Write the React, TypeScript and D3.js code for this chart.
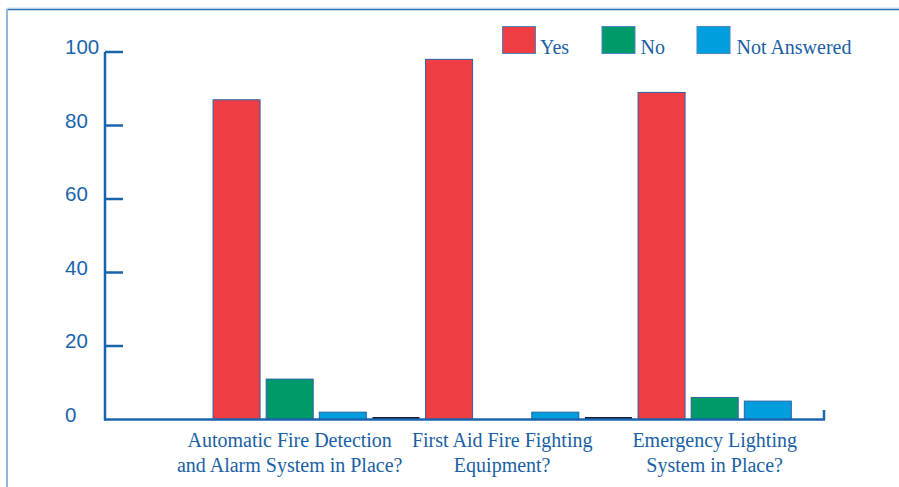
import React from "react";
import * as d3 from "d3";

const categories = [
  ["Automatic Fire Detection", "and Alarm System in Place?"],
  ["First Aid Fire Fighting", "Equipment?"],
  ["Emergency Lighting", "System in Place?"],
];
const seriesNames = ["Yes", "No", "Not Answered"];
const yesValues = [87, 98, 89];
const noValues = [11, 0, 6];
const notAnsweredValues = [2, 2, 5];
const blankValues: (number | null)[] = [0, 0, null];
const yTicks = [0, 20, 40, 60, 80, 100];
const colors = ["#ee3e43", "#00996a", "#009edd"];

const W = 899;
const H = 487;

export default function App() {
  const catKeys = categories.map((c) => c.join(" "));
  const x0 = d3.scaleBand<string>().domain(catKeys).range([210, 847.5]);
  const slotKeys = [...seriesNames, "blank"];
  const x1 = d3
    .scaleBand<string>()
    .domain(slotKeys)
    .range([0, x0.bandwidth()])
    .paddingInner(0.115)
    .paddingOuter(0.0575);
  const y = d3.scaleLinear().domain([0, 100]).range([419.5, 52]);
  const series = [yesValues, noValues, notAnsweredValues];
  const axisColor = "#1a64ae";
  const textColor = "#1a5fa3";
  const baseY = y(0);

  return (
    <svg
      width={W}
      height={H}
      style={{ position: "absolute", left: 0, top: 0, background: "#fff" }}
    >
      {/* frame */}
      <line x1={7} x2={W} y1={8} y2={8} stroke="#c9dcef" strokeWidth={1} />
      <line x1={7} x2={W} y1={9.5} y2={9.5} stroke="#2e74b5" strokeWidth={1.5} />
      <line x1={7} x2={7} y1={9} y2={H} stroke="#8cb8e0" strokeWidth={2} />

      {/* bars */}
      {catKeys.map((c, ci) => (
        <g key={c}>
          {series.map((vals, si) => {
            const v = vals[ci];
            const bx = (x0(c) ?? 0) + (x1(seriesNames[si]) ?? 0);
            const top = y(v);
            if (v <= 0) return null;
            return (
              <rect
                key={si}
                x={bx}
                y={top}
                width={x1.bandwidth()}
                height={baseY - top}
                fill={colors[si]}
                stroke="#2a62a6"
                strokeWidth={1}
              />
            );
          })}
          {blankValues[ci] !== null && (
            <line
              x1={(x0(c) ?? 0) + (x1("blank") ?? 0)}
              x2={(x0(c) ?? 0) + (x1("blank") ?? 0) + x1.bandwidth()}
              y1={y(blankValues[ci] as number) - 1.5}
              y2={y(blankValues[ci] as number) - 1.5}
              stroke="#111a2e"
              strokeWidth={1.8}
            />
          )}
        </g>
      ))}

      {/* axes */}
      <line x1={105} x2={105} y1={y(100)} y2={baseY + 1} stroke={axisColor} strokeWidth={2.5} />
      <line x1={104} x2={825} y1={baseY} y2={baseY} stroke={axisColor} strokeWidth={2.5} />
      <line x1={824} x2={824} y1={baseY} y2={410} stroke={axisColor} strokeWidth={2.5} />
      {yTicks.map((t) => (
        <g key={t}>
          {t > 0 && (
            <line x1={105} x2={123} y1={y(t)} y2={y(t)} stroke={axisColor} strokeWidth={2.5} />
          )}
          <text
            x={65}
            y={y(t) + 2}
            fill={axisColor}
            fontFamily="Liberation Sans, Arial, sans-serif"
            fontSize={20.5}
          >
            {t}
          </text>
        </g>
      ))}

      {/* category labels */}
      {categories.map((lines, ci) => {
        const c = catKeys[ci];
        const left = (x0(c) ?? 0) + (x1(seriesNames[0]) ?? 0);
        const right = (x0(c) ?? 0) + (x1(seriesNames[2]) ?? 0) + x1.bandwidth();
        const cx = (left + right) / 2;
        return (
          <text
            key={c}
            x={cx}
            textAnchor="middle"
            fill={textColor}
            fontFamily="Liberation Serif, Times New Roman, serif"
            fontSize={20}
          >
            {lines.map((l, li) => (
              <tspan key={li} x={cx} y={446.5 + li * 25}>
                {l}
              </tspan>
            ))}
          </text>
        );
      })}

      {/* legend */}
      {seriesNames.map((s, si) => {
        const lx = [502.5, 602, 697][si];
        const tx = [540, 640.5, 736.5][si];
        return (
          <g key={s}>
            <rect
              x={lx}
              y={26.5}
              width={33}
              height={27}
              fill={colors[si]}
              stroke="#4a86c2"
              strokeWidth={1}
            />
            <text
              x={tx}
              y={53.5}
              fill={textColor}
              fontFamily="Liberation Serif, Times New Roman, serif"
              fontSize={20}
            >
              {s}
            </text>
          </g>
        );
      })}
    </svg>
  );
}
